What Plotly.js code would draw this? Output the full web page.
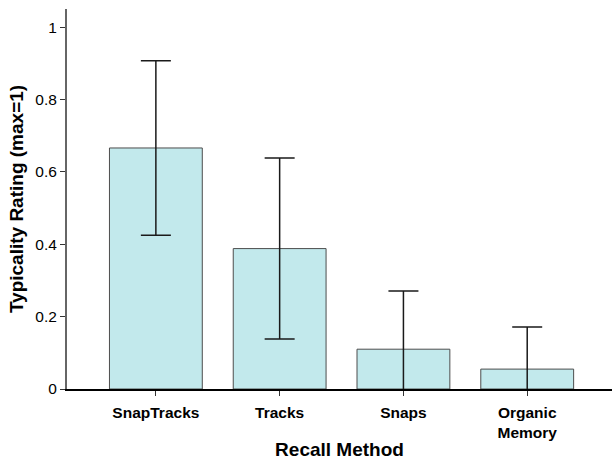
<!DOCTYPE html>
<html>
<head>
<meta charset="utf-8">
<script src="https://cdn.plot.ly/plotly-3.0.1.min.js"></script>
<style>html,body{margin:0;padding:0;background:#fff;}#chart{width:612px;height:460px;}</style>
</head>
<body>
<div id="chart"></div>
<script>
const categories = ["SnapTracks", "Tracks", "Snaps", "Organic<br>Memory"];
const means = [0.666, 0.388, 0.110, 0.055];
const errors = [0.241, 0.250, 0.161, 0.116];
const yTicks = [0, 0.2, 0.4, 0.6, 0.8, 1];
const yTickLabels = ["0", "0.2", "0.4", "0.6", "0.8", "1"];

const trace = {
  type: 'bar',
  x: categories.map((c, i) => i),
  y: means,
  width: 0.75,
  marker: {color: '#c2e9ec', line: {color: '#4d4d4d', width: 1}},
  error_y: {type: 'data', array: errors, visible: true, color: '#1a1a1a', thickness: 1.5, width: 15},
  hoverinfo: 'none'
};

const layout = {
  width: 612, height: 460,
  margin: {l: 67, r: 0, t: 9, b: 71},
  paper_bgcolor: '#fff', plot_bgcolor: '#fff',
  showlegend: false,
  font: {family: 'Liberation Sans, Arial, sans-serif', color: '#000'},
  xaxis: {
    range: [-0.718, 3.685],
    tickmode: 'array',
    tickvals: categories.map((c, i) => i),
    ticktext: categories.map(c => '<b>' + c + '</b>'),
    ticks: 'outside', ticklen: 5, tickcolor: '#333', tickwidth: 1,
    ticklabelstandoff: 4,
    tickfont: {size: 15.5, color: '#000'},
    showline: true, linecolor: '#000', linewidth: 1.5,
    showgrid: false, zeroline: false,
    title: {text: '<b>Recall Method</b>', font: {size: 19, color: '#000'}, standoff: 6}
  },
  yaxis: {
    range: [0, 1.05],
    tickmode: 'array',
    tickvals: yTicks,
    ticktext: yTickLabels,
    ticks: 'outside', ticklen: 5, tickcolor: '#333', tickwidth: 1,
    ticklabelstandoff: 0,
    tickfont: {size: 15.5, color: '#000'},
    showline: true, linecolor: '#666', linewidth: 2,
    showgrid: false, zeroline: false,
    title: {text: '<b>Typicality Rating (max=1)</b>', font: {size: 19, color: '#000'}, standoff: 7}
  }
};

Plotly.newPlot('chart', [trace], layout, {displayModeBar: false, staticPlot: true});
</script>
</body>
</html>
